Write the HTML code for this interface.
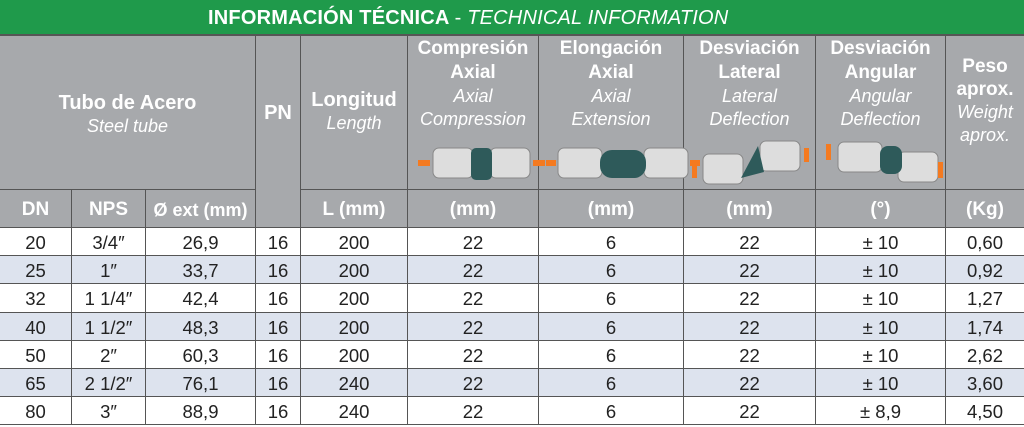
<!DOCTYPE html>
<html><head><meta charset="utf-8"><style>
*{margin:0;padding:0;box-sizing:border-box}
body{width:1024px;height:427px;overflow:hidden;background:#fff;font-family:"Liberation Sans","DejaVu Sans",sans-serif;position:relative}
.a{position:absolute}
.t{position:absolute;left:0;top:0;width:1024px;height:34px;background:#1f9a4b;color:#fff;font-weight:bold;font-size:20px;line-height:36px;padding-left:208px;letter-spacing:0.2px;white-space:nowrap}
.h{position:absolute;background:#a7a9ac;border-right:1.5px solid #555;border-bottom:1.5px solid #555;color:#fff;text-align:center;font-weight:bold}
.h i{font-weight:normal;display:block;font-size:18px;line-height:23px}
.c{position:absolute;border-right:1px solid #555;border-bottom:1px solid #555;text-align:center;font-size:18.5px;color:#222;line-height:29px}
</style></head><body>
<div class="t">INFORMACIÓN TÉCNICA <span style="font-weight:normal"> - <i>TECHNICAL INFORMATION</i></span></div>
<div class="a" style="left:0;top:34px;width:1024px;height:2px;background:#555"></div>

<div class="h" style="left:0;top:36px;width:256px;height:154px;font-size:20px;padding-top:55px;line-height:24px">Tubo de Acero<i>Steel tube</i></div>
<div class="h" style="left:256px;top:36px;width:45px;height:192px;font-size:20px;padding-top:66px">PN</div>
<div class="h" style="left:301px;top:36px;width:107px;height:154px;font-size:20px;padding-top:52px;line-height:24px">Longitud<i>Length</i></div>

<div class="h" style="left:408px;top:36px;width:131px;height:154px;font-size:19px;line-height:24px;padding-top:1px">Compresión<br>Axial<i>Axial<br>Compression</i></div>
<div class="h" style="left:539px;top:36px;width:145px;height:154px;font-size:19px;line-height:24px;padding-top:1px">Elongación<br>Axial<i>Axial<br>Extension</i></div>
<div class="h" style="left:684px;top:36px;width:132px;height:154px;font-size:19px;line-height:24px;padding-top:1px">Desviación<br>Lateral<i>Lateral<br>Deflection</i></div>
<div class="h" style="left:816px;top:36px;width:130px;height:154px;font-size:19px;line-height:24px;padding-top:1px">Desviación<br>Angular<i>Angular<br>Deflection</i></div>
<div class="h" style="left:946px;top:36px;width:78px;height:154px;font-size:19px;line-height:23px;padding-top:19px;border-right:none">Peso<br>aprox.<i>Weight<br>aprox.</i></div>

<svg class="a" style="left:408px;top:136px" width="616" height="54">
<g fill="#ddd" stroke="#888">
<rect x="25" y="12" width="40" height="30" rx="6"/><rect x="82" y="12" width="40" height="30" rx="6"/>
<rect x="150" y="12" width="44" height="30" rx="6"/><rect x="236" y="12" width="44" height="30" rx="6"/>
<rect x="295" y="18" width="40" height="30" rx="6"/><rect x="352" y="5" width="40" height="30" rx="6"/>
<rect x="430" y="6" width="44" height="30" rx="6"/><rect x="490" y="16" width="40" height="30" rx="6"/>
</g>
<g fill="#2e5a5a"><rect x="63" y="12" width="21" height="32" rx="5"/><rect x="192" y="14" width="46" height="28" rx="12"/>
<path d="M333 42 L350 10 L356 36 Z"/><rect x="472" y="10" width="22" height="28" rx="8"/></g>
<g fill="#f47a20"><rect x="10" y="24" width="12" height="6"/><rect x="125" y="24" width="12" height="6"/>
<rect x="138" y="24" width="10" height="6"/><rect x="282" y="24" width="10" height="6"/>
<rect x="284" y="28" width="5" height="14"/><rect x="396" y="12" width="5" height="14"/>
<rect x="418" y="8" width="5" height="16"/><rect x="530" y="26" width="5" height="16"/></g>
</svg>

<div class="h" style="left:0;top:190px;width:72px;height:38px;font-size:19px;line-height:40px">DN</div>
<div class="h" style="left:72px;top:190px;width:74px;height:38px;font-size:19px;line-height:40px">NPS</div>
<div class="h" style="left:146px;top:190px;width:110px;height:38px;font-size:18px;line-height:40px">Ø ext (mm)</div>
<div class="h" style="left:301px;top:190px;width:107px;height:38px;font-size:19px;line-height:40px">L (mm)</div>
<div class="h" style="left:408px;top:190px;width:131px;height:38px;font-size:19px;line-height:40px">(mm)</div>
<div class="h" style="left:539px;top:190px;width:145px;height:38px;font-size:19px;line-height:40px">(mm)</div>
<div class="h" style="left:684px;top:190px;width:132px;height:38px;font-size:19px;line-height:40px">(mm)</div>
<div class="h" style="left:816px;top:190px;width:130px;height:38px;font-size:19px;line-height:40px">(°)</div>
<div class="h" style="left:946px;top:190px;width:78px;height:38px;font-size:19px;line-height:40px;border-right:none">(Kg)</div>

<div id="rows"></div>
<script>
var d=[["20","3/4″","26,9","16","200","22","6","22","± 10","0,60"],
["25","1″","33,7","16","200","22","6","22","± 10","0,92"],
["32","1 1/4″","42,4","16","200","22","6","22","± 10","1,27"],
["40","1 1/2″","48,3","16","200","22","6","22","± 10","1,74"],
["50","2″","60,3","16","200","22","6","22","± 10","2,62"],
["65","2 1/2″","76,1","16","240","22","6","22","± 10","3,60"],
["80","3″","88,9","16","240","22","6","22","± 8,9","4,50"]];
var xs=[0,72,146,256,301,408,539,684,816,946,1024],h="";
d.forEach(function(r,i){var y=228+i*28.2;var bg=i%2?"#dde3ee":"#fff";
r.forEach(function(v,j){h+='<div class="c" style="left:'+xs[j]+'px;top:'+y+'px;width:'+(xs[j+1]-xs[j])+'px;height:28.2px;background:'+bg+(j==9?';border-right:none':'')+'">'+v+'</div>';});});
document.getElementById("rows").innerHTML=h;
</script>
</body></html>
